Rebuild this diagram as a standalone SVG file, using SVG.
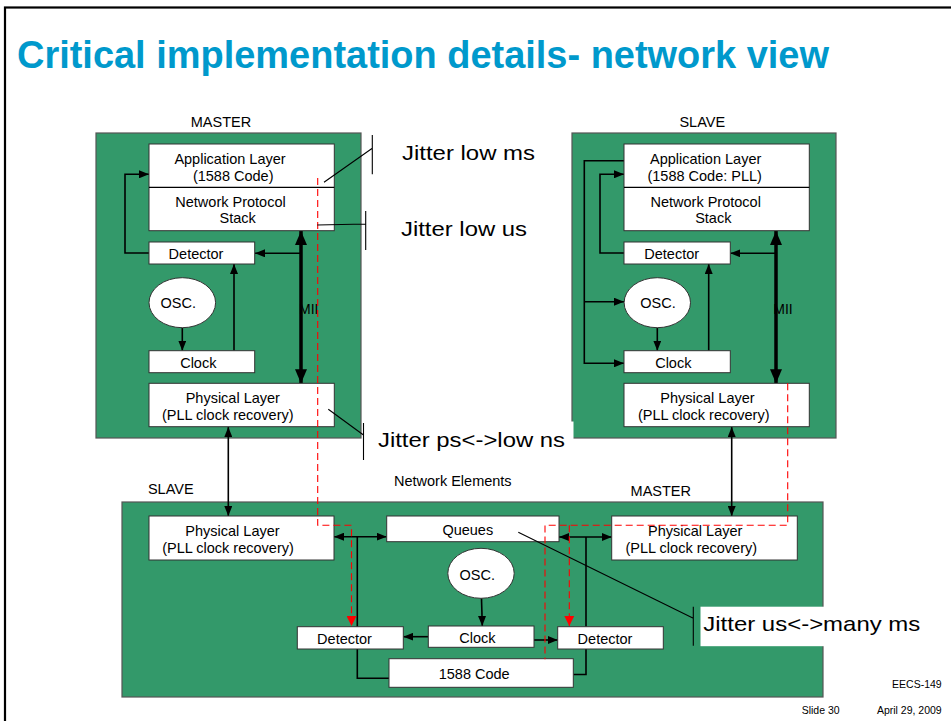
<svg xmlns="http://www.w3.org/2000/svg" width="951" height="721" viewBox="0 0 951 721">
  <defs>
    <marker id="ah" viewBox="0 0 10 8" refX="10" refY="4" markerWidth="10" markerHeight="8" markerUnits="userSpaceOnUse" orient="auto-start-reverse">
      <path d="M0,0 L10,4 L0,8 z" fill="#000"/>
    </marker>
    <marker id="ahBig" viewBox="0 0 14 12" refX="14" refY="6" markerWidth="14" markerHeight="12" markerUnits="userSpaceOnUse" orient="auto-start-reverse">
      <path d="M0,0 L14,6 L0,12 z" fill="#000"/>
    </marker>
    <marker id="ahRed" viewBox="0 0 10 10" refX="10" refY="5" markerWidth="10" markerHeight="10" markerUnits="userSpaceOnUse" orient="auto">
      <path d="M0,0 L10,5 L0,10 z" fill="#f00"/>
    </marker>
  </defs>
  <style>
    text { font-family: "Liberation Sans", Arial, sans-serif; fill: #000; }
    .title { font-size: 38px; font-weight: bold; fill: #0099cc; }
    .lbl { font-size: 14.5px; text-anchor: middle; }
    .mii { font-size: 14px; }
    .jit { font-size: 21px; }
    .foot { font-size: 10.5px; }
    .end { text-anchor: end; }
    .cont { fill: #33996a; stroke: #555; stroke-width: 1.2; }
    .box { fill: #fff; stroke: #333; stroke-width: 1; }
    .osc { fill: #fff; stroke: #333; stroke-width: 1; }
    .wire { fill: none; stroke: #000; stroke-width: 1.6; }
    .bus { fill: none; stroke: #000; stroke-width: 3.5; }
    .sig { fill: none; stroke: #f00; stroke-width: 1.1; stroke-dasharray: 7 4; }
    .lead { fill: none; stroke: #000; stroke-width: 1.1; }
  </style>

  <rect width="951" height="721" fill="#fff"/>
  <!-- slide frame -->
  <rect x="5" y="7.5" width="960" height="730" fill="none" stroke="#000" stroke-width="2.2"/>
  <text class="title" x="17" y="68" textLength="812" lengthAdjust="spacingAndGlyphs">Critical implementation details- network view</text>

  <!-- containers -->
  <g id="master">
    <rect class="cont" x="96" y="133" width="265" height="305"/>
    <text class="lbl" x="221" y="127.3">MASTER</text>
  </g>
  <g id="slave">
    <rect class="cont" x="572" y="133" width="264" height="305"/>
    <text class="lbl" x="702.3" y="127.3">SLAVE</text>
  </g>
  <g id="network-elements">
    <rect class="cont" x="122" y="502" width="701" height="195"/>
    <text class="lbl" x="452.8" y="486">Network Elements</text>
    <text class="lbl" x="170.8" y="494.3">SLAVE</text>
    <text class="lbl" x="660.8" y="496">MASTER</text>
  </g>

  <!-- MII labels sit under the bus arrows -->
  <text class="mii" x="299" y="314">MII</text>
  <text class="mii" x="773.3" y="314">MII</text>

  <!-- wiring -->
  <g id="connectors">
    <!-- master -->
    <path class="wire" d="M182.3,327.7 V350.7" marker-end="url(#ah)"/>
    <path class="wire" d="M234,350.7 V264" marker-end="url(#ah)"/>
    <path class="wire" d="M149,253 H125 V174.3 H149" marker-end="url(#ah)"/>
    <path class="bus" d="M301,231 V383.3" marker-start="url(#ahBig)" marker-end="url(#ahBig)"/>
    <path class="wire" d="M301,253.3 H255" marker-end="url(#ah)"/>
    <path class="wire" d="M228.3,427 V516" marker-start="url(#ah)" marker-end="url(#ah)"/>
    <!-- slave -->
    <path class="wire" d="M657.3,327.7 V350.7" marker-end="url(#ah)"/>
    <path class="wire" d="M708.7,350.7 V264" marker-end="url(#ah)"/>
    <path class="wire" d="M624,253 H600 V174.3 H624" marker-end="url(#ah)"/>
    <path class="wire" d="M624,160.7 H584.3 V363.3 H624" marker-end="url(#ah)"/>
    <path class="wire" d="M584.3,301.7 H624" marker-end="url(#ah)"/>
    <path class="bus" d="M776,231 V383.3" marker-start="url(#ahBig)" marker-end="url(#ahBig)"/>
    <path class="wire" d="M776,253.3 H730.3" marker-end="url(#ah)"/>
    <path class="wire" d="M731.7,427 V516" marker-start="url(#ah)" marker-end="url(#ah)"/>
    <!-- network elements -->
    <path class="wire" d="M334,536.7 H386.7" marker-start="url(#ah)" marker-end="url(#ah)"/>
    <path class="wire" d="M357.3,536.7 V678.3 H389"/>
    <path class="wire" d="M559,537 H611.7" marker-start="url(#ah)" marker-end="url(#ah)"/>
    <path class="wire" d="M586,537 V674.5 H573.3"/>
    <path class="wire" d="M481.5,598.3 L482.3,626" marker-end="url(#ah)"/>
    <path class="wire" d="M428.3,636.7 H403.3" marker-end="url(#ah)"/>
    <path class="wire" d="M534,640 H557.7" marker-end="url(#ah)"/>
  </g>

  <!-- master blocks -->
  <g id="m-app">
    <rect class="box" x="149" y="144" width="185.3" height="86.7"/>
    <line x1="149" y1="187.3" x2="334.3" y2="187.3" stroke="#000" stroke-width="1.2"/>
    <text class="lbl" x="230" y="163.5">Application Layer</text>
    <text class="lbl" x="233.2" y="180.5">(1588 Code)</text>
    <text class="lbl" x="230.5" y="206.5">Network Protocol</text>
    <text class="lbl" x="237.7" y="223.3">Stack</text>
  </g>
  <g id="m-detector">
    <rect class="box" x="149" y="242" width="105.7" height="22"/>
    <text class="lbl" x="196" y="258.5">Detector</text>
  </g>
  <g id="m-osc">
    <ellipse class="osc" cx="182.3" cy="302.7" rx="33.3" ry="25"/>
    <text class="lbl" x="178.3" y="308.3">OSC.</text>
  </g>
  <g id="m-clock">
    <rect class="box" x="149" y="350.7" width="105.7" height="22"/>
    <text class="lbl" x="198.3" y="368.3">Clock</text>
  </g>
  <g id="m-phy">
    <rect class="box" x="149" y="383.3" width="185.3" height="43.4"/>
    <text class="lbl" x="232.8" y="402.8">Physical Layer</text>
    <text class="lbl" x="227.8" y="419.5">(PLL clock recovery)</text>
  </g>

  <!-- slave blocks -->
  <g id="s-app">
    <rect class="box" x="624" y="144" width="185.3" height="86.7"/>
    <line x1="624" y1="187.3" x2="809.3" y2="187.3" stroke="#000" stroke-width="1.2"/>
    <text class="lbl" x="705.7" y="163.5">Application Layer</text>
    <text class="lbl" x="704.7" y="180.5">(1588 Code: PLL)</text>
    <text class="lbl" x="705.7" y="206.5">Network Protocol</text>
    <text class="lbl" x="713.3" y="223.3">Stack</text>
  </g>
  <g id="s-detector">
    <rect class="box" x="624" y="242" width="106.3" height="22"/>
    <text class="lbl" x="671.7" y="258.5">Detector</text>
  </g>
  <g id="s-osc">
    <ellipse class="osc" cx="657.3" cy="302.7" rx="33.2" ry="25"/>
    <text class="lbl" x="658" y="308.3">OSC.</text>
  </g>
  <g id="s-clock">
    <rect class="box" x="624" y="350.7" width="106.3" height="22"/>
    <text class="lbl" x="673.3" y="368.3">Clock</text>
  </g>
  <g id="s-phy">
    <rect class="box" x="624" y="383.3" width="185.3" height="43.4"/>
    <text class="lbl" x="707.5" y="402.8">Physical Layer</text>
    <text class="lbl" x="703.7" y="419.5">(PLL clock recovery)</text>
  </g>

  <!-- network element blocks -->
  <g id="n-phy-slave">
    <rect class="box" x="149" y="516" width="185" height="44"/>
    <text class="lbl" x="232.5" y="535.7">Physical Layer</text>
    <text class="lbl" x="228" y="553.3">(PLL clock recovery)</text>
  </g>
  <g id="n-queues">
    <rect class="box" x="386.7" y="516" width="172.3" height="25.7"/>
    <text class="lbl" x="467.8" y="535.3">Queues</text>
  </g>
  <g id="n-phy-master">
    <rect class="box" x="611.7" y="516" width="185.6" height="44"/>
    <text class="lbl" x="695.2" y="535.7">Physical Layer</text>
    <text class="lbl" x="691.3" y="553.3">(PLL clock recovery)</text>
  </g>
  <g id="n-osc">
    <ellipse class="osc" cx="481" cy="573.3" rx="33.2" ry="25"/>
    <text class="lbl" x="477.2" y="579.5">OSC.</text>
  </g>
  <g id="n-detector-left">
    <rect class="box" x="297.3" y="626.7" width="106" height="22.3"/>
    <text class="lbl" x="344.5" y="643.5">Detector</text>
  </g>
  <g id="n-clock">
    <rect class="box" x="428.3" y="626" width="105.7" height="21.3"/>
    <text class="lbl" x="477.5" y="642.7">Clock</text>
  </g>
  <g id="n-detector-right">
    <rect class="box" x="557.7" y="626.7" width="105.6" height="22.3"/>
    <text class="lbl" x="605" y="643.5">Detector</text>
  </g>
  <g id="n-1588">
    <rect class="box" x="389" y="658.7" width="184.3" height="28.6"/>
    <text class="lbl" x="474.2" y="678.7">1588 Code</text>
  </g>

  <!-- timing message paths -->
  <g id="signal-paths">
    <path class="sig" d="M317.7,178 V525.3 H351.5 V626" marker-end="url(#ahRed)"/>
    <path class="sig" d="M787.7,383.3 V525.3 H545 V659.3"/>
    <path class="sig" d="M569.3,525.3 V626" marker-end="url(#ahRed)"/>
  </g>

  <!-- jitter callouts -->
  <g id="jitter-app">
    <path class="lead" d="M324,182.3 L372.3,148.3 M372.3,135 V174.3"/>
    <text class="jit" x="402" y="159.5" textLength="133" lengthAdjust="spacingAndGlyphs">Jitter low ms</text>
  </g>
  <g id="jitter-stack">
    <path class="lead" d="M317.3,225 L365.7,224 M365.7,211 V250"/>
    <text class="jit" x="401" y="235.5" textLength="126" lengthAdjust="spacingAndGlyphs">Jitter low us</text>
  </g>
  <g id="jitter-phy">
    <rect x="367" y="421.5" width="206.5" height="40" fill="#fff"/>
    <path class="lead" d="M328.3,409.3 L363.5,435 M363.5,423 V460"/>
    <text class="jit" x="378" y="446.5" textLength="187" lengthAdjust="spacingAndGlyphs">Jitter ps&lt;-&gt;low ns</text>
  </g>
  <g id="jitter-queues">
    <rect x="700.5" y="606.7" width="225" height="39.5" fill="#fff"/>
    <path class="lead" d="M518.3,532.3 L693.3,618.3 M693.3,606.7 V645.7"/>
    <text class="jit" x="703.3" y="631" textLength="217" lengthAdjust="spacingAndGlyphs">Jitter us&lt;-&gt;many ms</text>
  </g>

  <!-- footer -->
  <text class="foot end" x="941.7" y="688.3">EECS-149</text>
  <text class="foot" x="801.7" y="714.3">Slide 30</text>
  <text class="foot end" x="941.7" y="714.3">April 29, 2009</text>
</svg>
